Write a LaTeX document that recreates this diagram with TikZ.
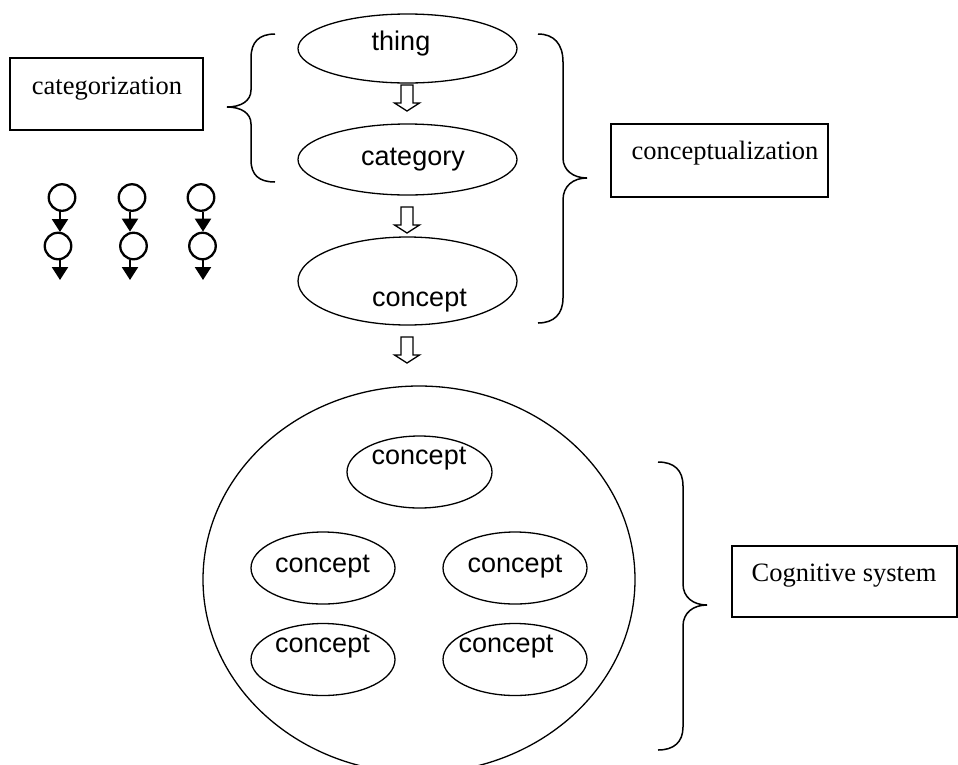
\documentclass[tikz,border=0pt]{standalone}
\usepackage{fontspec}
\setmainfont{Liberation Serif}
\newfontfamily\arialf{Liberation Sans}
\usetikzlibrary{shapes.geometric,arrows.meta}
\begin{document}
\begin{tikzpicture}[x=1pt,y=-1pt,
 oval/.style={draw,ellipse,line width=1.3pt,inner sep=0pt},
 sanslab/.style={font=\arialf\fontsize{27}{30}\selectfont,anchor=base,inner sep=0pt},
 seriflab/.style={font=\fontsize{26.5}{30}\selectfont,anchor=base,inner sep=0pt},
 labelbox/.style={draw,line width=1.8pt,inner sep=0pt},
 bracepath/.style={line width=1.5pt},
 dot/.style={draw,circle,line width=2.3pt,minimum size=26.5pt,inner sep=0pt},
 dotarrow/.style={line width=2.3pt,-{Triangle[width=16pt,length=13pt]}},
 hollow/.pic={\draw[line width=1.3pt,line join=miter] (-6,0) -- (-6,18) -- (-12.5,18) -- (0,26) -- (12.5,18) -- (6,18) -- (6,0) -- cycle;}
]
\useasboundingbox[fill=white] (0,0) rectangle (958,764);

% upper chain
\node[oval,minimum width=219pt,minimum height=69pt] (thing) at (407.5,48.5) {};
\node[sanslab] (thingt) at (401,50) {thing};
\node[oval,minimum width=219pt,minimum height=71pt] (category) at (407.5,159.5) {};
\node[sanslab] (categoryt) at (413,165) {category};
\node[oval,minimum width=219pt,minimum height=88pt] (concept) at (407.5,281) {};
\node[sanslab] (conceptt) at (419.5,306) {concept};

\pic (ar1) at (407,85) {hollow};
\pic (ar2) at (407,207) {hollow};
\pic (ar3) at (407,337) {hollow};

% cognitive system
\begin{scope}
\clip (0,0) rectangle (958,764);
\node[oval,minimum width=432pt,minimum height=387pt] (system) at (419,579.5) {};
\end{scope}
\node[oval,minimum width=145pt,minimum height=72pt] (ct) at (419.5,472) {};
\node[sanslab] (ctt) at (419,464) {concept};
\node[oval,minimum width=144pt,minimum height=72pt] (cml) at (323,568) {};
\node[sanslab] (cmlt) at (322.5,572) {concept};
\node[oval,minimum width=144pt,minimum height=72pt] (cmr) at (515,568) {};
\node[sanslab] (cmrt) at (515,572) {concept};
\node[oval,minimum width=144pt,minimum height=72pt] (cbl) at (323,659.5) {};
\node[sanslab] (cblt) at (322.5,652) {concept};
\node[oval,minimum width=144pt,minimum height=72pt] (cbr) at (515,659.5) {};
\node[sanslab] (cbrt) at (506,652) {concept};

% boxes
\node[labelbox,minimum width=193pt,minimum height=72pt] (catbox) at (106.5,94) {};
\node[seriflab] (catt) at (107,94) {categorization};
\node[labelbox,minimum width=217pt,minimum height=73pt] (conbox) at (719.5,160.5) {};
\node[seriflab] (cont) at (725,159) {conceptualization};
\node[labelbox,minimum width=225pt,minimum height=71pt] (cogbox) at (844.5,581.5) {};
\node[seriflab] (cogt) at (844,581) {Cognitive system};

% braces
\draw[bracepath] (275,34) .. controls (259,34) and (251,42) .. (251,58) -- (251,90)
  .. controls (251,101) and (241,107) .. (227,107)
  .. controls (241,107) and (251,113) .. (251,124) -- (251,160)
  .. controls (251,175) and (259,182) .. (275,182);
\draw[bracepath] (538,34) .. controls (554,34) and (563,44) .. (563,62) -- (563,158)
  .. controls (563,170) and (573,178) .. (587,178)
  .. controls (573,178) and (563,186) .. (563,200) -- (563,298)
  .. controls (563,314) and (554,323) .. (538,323);
\draw[bracepath] (658,462) .. controls (674,462) and (683,470) .. (683,486) -- (683,584)
  .. controls (683,597) and (693,605) .. (707,605)
  .. controls (693,605) and (683,613) .. (683,626) -- (683,727)
  .. controls (683,742) and (674,750) .. (658,750);

% small chains
\node[dot] (d11) at (62,197.5) {};
\node[dot] (d12) at (58,246) {};
\coordinate (e1) at (60,280);
\node[dot] (d21) at (132,197.5) {};
\node[dot] (d22) at (133.5,246) {};
\coordinate (e2) at (130,280);
\node[dot] (d31) at (201,197.5) {};
\node[dot] (d32) at (202.5,246) {};
\coordinate (e3) at (203,280);

\draw[dotarrow] (60,211) -- (60,232);
\draw[dotarrow] (d12.south -| e1) -- (e1);
\draw[dotarrow] (d21.south -| e2) -- (d22.north -| e2);
\draw[dotarrow] (d22.south -| e2) -- (e2);
\draw[dotarrow] (d31.south -| e3) -- (d32.north -| e3);
\draw[dotarrow] (d32.south -| e3) -- (e3);
\end{tikzpicture}
\end{document}
